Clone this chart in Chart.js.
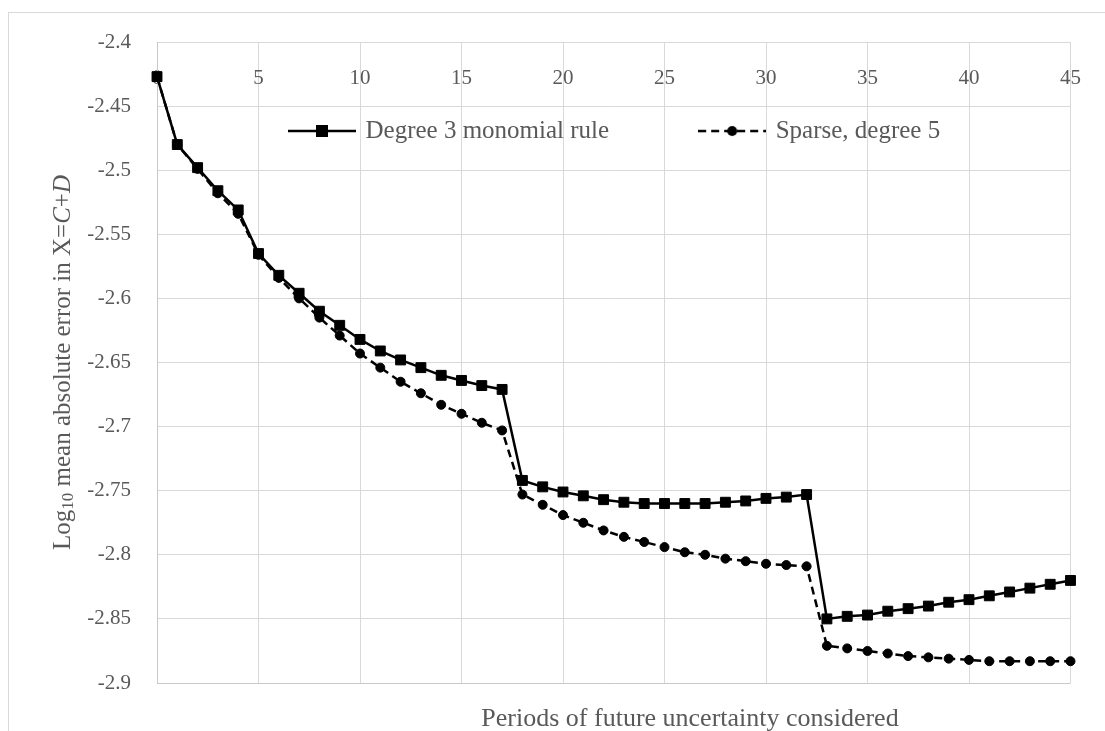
<!DOCTYPE html>
<html>
<head>
<meta charset="utf-8">
<script src="https://cdn.jsdelivr.net/npm/chart.js@4.4.0/dist/chart.umd.min.js"></script>
<style>
  html, body { margin: 0; padding: 0; background: #fff; }
  #wrap { position: relative; width: 1105px; height: 731px; overflow: hidden; }
  #frame { position: absolute; left: 8px; top: 12px; width: 1200px; height: 800px; border: 1px solid #d9d9d9; }
  canvas { position: absolute; left: 0; top: 0; }
</style>
</head>
<body>
<div id="wrap"><div id="frame"></div><canvas id="chart" width="1105" height="731"></canvas></div>
<script>
// periods of future uncertainty (x values)
const periods = [0, 1, 2, 3, 4, 5, 6, 7, 8, 9, 10, 11, 12, 13, 14, 15, 16, 17, 18, 19, 20, 21, 22,
  23, 24, 25, 26, 27, 28, 29, 30, 31, 32, 33, 34, 35, 36, 37, 38, 39, 40, 41, 42, 43, 44, 45];

// log10 mean absolute error, degree 3 monomial rule
const degree3 = [-2.427, -2.480, -2.498, -2.516, -2.531, -2.565, -2.582, -2.596, -2.610, -2.621,
  -2.632, -2.641, -2.648, -2.654, -2.660, -2.664, -2.668, -2.671, -2.742, -2.747, -2.751, -2.754,
  -2.757, -2.759, -2.760, -2.760, -2.760, -2.760, -2.759, -2.758, -2.756, -2.755, -2.753, -2.850,
  -2.848, -2.847, -2.844, -2.842, -2.840, -2.837, -2.835, -2.832, -2.829, -2.826, -2.823, -2.820];

// log10 mean absolute error, sparse grid degree 5
const sparse5 = [-2.427, -2.480, -2.499, -2.518, -2.534, -2.566, -2.584, -2.600, -2.615, -2.629,
  -2.643, -2.654, -2.665, -2.674, -2.683, -2.690, -2.697, -2.703, -2.753, -2.761, -2.769, -2.775,
  -2.781, -2.786, -2.790, -2.794, -2.798, -2.800, -2.803, -2.805, -2.807, -2.808, -2.809, -2.871,
  -2.873, -2.875, -2.877, -2.879, -2.880, -2.881, -2.882, -2.883, -2.883, -2.883, -2.883, -2.883];

const seriesNames = ['Degree 3 monomial rule', 'Sparse, degree 5'];
const xTitle = 'Periods of future uncertainty considered';
// y title pieces: [text, style]
const yTitleParts = [['Log', 'n'], ['10', 'sub'], [' mean absolute error in X=', 'n'], ['C', 'i'], ['+', 'n'], ['D', 'i']];

const FONT = "'Liberation Serif', 'Times New Roman', serif";
const GREY = '#595959';

function toPoints(ys) {
  return periods.map((p, i) => ({ x: p, y: ys[i] }));
}

// small line+marker pictures for the legend entries
function legendSwatch(dash, marker) {
  const c = document.createElement('canvas');
  c.width = 68;
  c.height = 16;
  const g = c.getContext('2d');
  g.strokeStyle = '#000';
  g.lineWidth = 2.5;
  g.setLineDash(dash);
  g.beginPath();
  g.moveTo(0, 8);
  g.lineTo(68, 8);
  g.stroke();
  g.fillStyle = '#000';
  if (marker === 'rect') {
    g.fillRect(28, 2, 12, 12);
  } else {
    g.beginPath();
    g.arc(34, 8, 5, 0, Math.PI * 2);
    g.fill();
  }
  return c;
}
const swatches = [legendSwatch([], 'rect'), legendSwatch([8, 5], 'circle')];

// put the legend inside the plot area, like the original
const legendInside = {
  id: 'legendInside',
  afterLayout(chart) {
    const lg = chart.legend;
    const pad = lg.options.labels.padding;
    const top = chart.chartArea.top + 89 - pad - 12.5;
    lg.left = 291 - pad;
    lg.right = chart.width;
    lg.top = top;
    lg.bottom = top + 2 * pad + 25;
  }
};

// axis titles (y title has a subscript and italics)
const axisTitles = {
  id: 'axisTitles',
  afterDraw(chart) {
    const ctx = chart.ctx;
    const area = chart.chartArea;
    const fonts = {
      n: '25px ' + FONT,
      i: 'italic 25px ' + FONT,
      sub: '17px ' + FONT
    };
    ctx.save();
    ctx.fillStyle = GREY;
    ctx.textBaseline = 'middle';

    ctx.font = '26px ' + FONT;
    ctx.textAlign = 'center';
    ctx.fillText(xTitle, 690, 719);

    ctx.textAlign = 'left';
    let total = 0;
    yTitleParts.forEach(([t, s]) => { ctx.font = fonts[s]; total += ctx.measureText(t).width; });
    ctx.translate(63, (area.top + area.bottom) / 2);
    ctx.rotate(-Math.PI / 2);
    let x = -total / 2;
    yTitleParts.forEach(([t, s]) => {
      ctx.font = fonts[s];
      ctx.fillText(t, x, s === 'sub' ? 6 : 0);
      x += ctx.measureText(t).width;
    });
    ctx.restore();
  }
};

new Chart(document.getElementById('chart'), {
  type: 'line',
  data: {
    datasets: [
      {
        label: seriesNames[0],
        data: toPoints(degree3),
        borderColor: '#000',
        backgroundColor: '#000',
        borderWidth: 2.5,
        pointStyle: 'rect',
        pointRadius: 7,
        pointBorderWidth: 1,
        pointBackgroundColor: '#000',
        pointBorderColor: '#000',
        tension: 0,
        clip: false
      },
      {
        label: seriesNames[1],
        data: toPoints(sparse5),
        borderColor: '#000',
        backgroundColor: '#000',
        borderWidth: 2.5,
        borderDash: [8, 5],
        pointStyle: 'circle',
        pointRadius: 4.5,
        pointBorderWidth: 1,
        pointBackgroundColor: '#000',
        pointBorderColor: '#000',
        tension: 0,
        clip: false
      }
    ]
  },
  options: {
    responsive: false,
    animation: false,
    events: [],
    layout: { padding: { left: 0, right: 29, top: 42, bottom: 48 } },
    scales: {
      x: {
        type: 'linear',
        position: 'top',
        min: 0,
        max: 45,
        afterFit: (s) => { s.height = 0; },
        ticks: {
          stepSize: 5,
          mirror: true,
          padding: 24,
          color: GREY,
          font: { family: FONT, size: 21 },
          maxRotation: 0,
          autoSkip: false,
          callback: (v) => String(v)
        },
        grid: { color: '#d9d9d9', lineWidth: 1, drawTicks: false },
        border: { color: '#d9d9d9' }
      },
      y: {
        type: 'linear',
        min: -2.9,
        max: -2.4,
        afterFit: (s) => { s.width = 157; },
        ticks: {
          stepSize: 0.05,
          padding: 26,
          color: GREY,
          font: { family: FONT, size: 21 },
          callback: (v) => String(+v.toFixed(2))
        },
        grid: {
          color: (c) => (c.tick && Math.abs(c.tick.value + 2.9) < 1e-6 ? '#c8c8c8' : '#d9d9d9'),
          lineWidth: 1,
          drawTicks: false
        },
        border: { color: '#c8c8c8' }
      }
    },
    plugins: {
      legend: {
        display: true,
        position: 'top',
        align: 'start',
        maxHeight: 0.001,
        labels: {
          usePointStyle: true,
          pointStyleWidth: 62,
          padding: 92,
          color: GREY,
          font: { family: FONT, size: 25 },
          generateLabels(chart) {
            const items = Chart.defaults.plugins.legend.labels.generateLabels(chart);
            items.forEach((it, i) => { it.pointStyle = swatches[i]; });
            return items;
          }
        }
      },
      tooltip: { enabled: false }
    }
  },
  plugins: [legendInside, axisTitles]
});
</script>
</body>
</html>
